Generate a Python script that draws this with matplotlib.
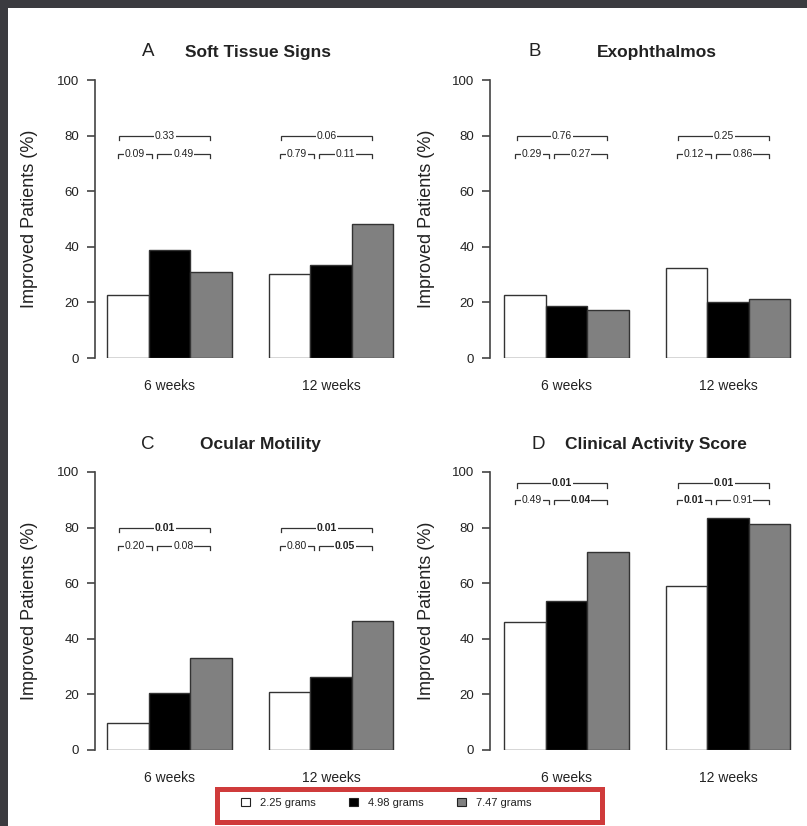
import numpy as np
import matplotlib.pyplot as plt
from matplotlib.patches import Rectangle, Patch

plt.rcParams['font.family'] = ['Liberation Sans', 'DejaVu Sans']

# data
groups = ['6 weeks', '12 weeks']
doses = ['2.25 grams', '4.98 grams', '7.47 grams']
colors = ['white', 'black', '#808080']

panels = ['A', 'B', 'C', 'D']
titles = ['Soft Tissue Signs', 'Exophthalmos', 'Ocular Motility', 'Clinical Activity Score']

soft_tissue = [[22.7, 38.8, 31.0], [30.2, 33.5, 48.2]]
exophthalmos = [[22.7, 18.7, 17.3], [32.4, 20.1, 21.2]]
ocular = [[9.7, 20.5, 33.1], [20.9, 26.3, 46.4]]
cas = [[45.9, 53.7, 71.3], [59.1, 83.6, 81.2]]

# p values: overall, then 2.25 vs 4.98, 4.98 vs 7.47
p_soft = [['0.33', '0.09', '0.49'], ['0.06', '0.79', '0.11']]
p_exo = [['0.76', '0.29', '0.27'], ['0.25', '0.12', '0.86']]
p_ocular = [['0.01', '0.20', '0.08'], ['0.01', '0.80', '0.05']]
p_cas = [['0.01', '0.49', '0.04'], ['0.01', '0.01', '0.91']]

W, H = 807, 826
fig = plt.figure(figsize=(W / 100, H / 100), dpi=100)

txt = '#222222'
axcol = '#444444'


def fx(px):
    return px / W


def fy(py):
    return 1 - py / H


# panel layout in pixels: (axis x, bottom px, xmin, title letter x, title x, title y, ylabel x)
layout = [
    (95, 358, -0.29, 148, 185, 52, 29),
    (490, 358, -0.34, 535, 597, 52, 427),
    (95, 750, -0.29, 148, 200, 445, 29),
    (490, 750, -0.34, 538, 565, 445, 427),
]
unit = 41.5
values = [soft_tissue, exophthalmos, ocular, cas]
pvals = [p_soft, p_exo, p_ocular, p_cas]
ann_y = [(80, 73.5), (80, 73.5), (80, 73.5), (96, 90)]
group_start = [0, 3.9]


def bracket(ax, x0, x1, y, label, fs):
    ax.plot([x0, x0, x1, x1], [y - 1.6, y, y, y - 1.6], color='#333333', lw=0.9,
            clip_on=False, solid_joinstyle='miter')
    bold = float(label) <= 0.05
    ax.text((x0 + x1) / 2, y, label, ha='center', va='center', fontsize=fs,
            color=txt, fontweight='bold' if bold else 'normal',
            bbox=dict(facecolor='white', edgecolor='none', pad=0.6), zorder=5)


for i in range(4):
    axx, bpx, xmin, lx, tx, ty, ylx = layout[i]
    xmax = 7.2
    ax = fig.add_axes([fx(axx), fy(bpx), (xmax - xmin) * unit / W, 278 / H])
    ax.set_xlim(xmin, xmax)
    ax.set_ylim(0, 100)

    for g in range(2):
        for k in range(3):
            ax.bar(group_start[g] + k + 0.5, values[i][g][k], width=1.0,
                   color=colors[k], edgecolor='#333333', linewidth=1.0)
        c0 = group_start[g]
        ax.text(c0 + 1.5, -28 / 278 * 100, groups[g], ha='center', va='center',
                fontsize=10, color=txt, clip_on=False)
        ytop, ylow = ann_y[i]
        p = pvals[i][g]
        bracket(ax, c0 + 0.3, c0 + 2.48, ytop, p[0], 7.5)
        bracket(ax, c0 + 0.27, c0 + 1.08, ylow, p[1], 7.5)
        bracket(ax, c0 + 1.2, c0 + 2.48, ylow, p[2], 7.5)

    for s in ['top', 'right', 'bottom']:
        ax.spines[s].set_visible(False)
    ax.spines['left'].set_color(axcol)
    ax.spines['left'].set_linewidth(1.2)
    ax.set_yticks([0, 20, 40, 60, 80, 100])
    ax.set_xticks([])
    ax.tick_params(axis='y', direction='out', length=5.5, width=1.2, color=axcol,
                   labelsize=9.5, labelcolor=txt, pad=6)

    fig.text(fx(lx), fy(ty), panels[i], ha='center', va='center', fontsize=13.5, color=txt)
    fig.text(fx(tx), fy(ty), titles[i], ha='left', va='center', fontsize=12.5,
             fontweight='bold', color=txt)
    fig.text(fx(ylx), fy(bpx - 139), 'Improved Patients (%)', rotation=90,
             ha='center', va='center', fontsize=13, color=txt)

# legend with highlight box
handles = [Patch(facecolor=c, edgecolor='#222222', linewidth=0.8) for c in colors]
fig.legend(handles, doses, loc='center', bbox_to_anchor=(fx(386), fy(803)), ncol=3,
           frameon=False, fontsize=8, handlelength=0.8, handleheight=0.8,
           handletextpad=0.9, columnspacing=3.0, labelcolor=txt)
fig.patches.append(Rectangle((fx(217.5), fy(822)), fx(385), (822 - 788.5) / H,
                             transform=fig.transFigure, fill=False,
                             edgecolor='#cf3b3b', linewidth=3.6))

# dark screen border top and left
fig.patches.append(Rectangle((0, fy(8)), 1, 8 / H, transform=fig.transFigure,
                             facecolor='#3b3b40', edgecolor='none'))
fig.patches.append(Rectangle((0, 0), fx(8), 1, transform=fig.transFigure,
                             facecolor='#3b3b40', edgecolor='none'))

plt.savefig('out.png', dpi=100)
